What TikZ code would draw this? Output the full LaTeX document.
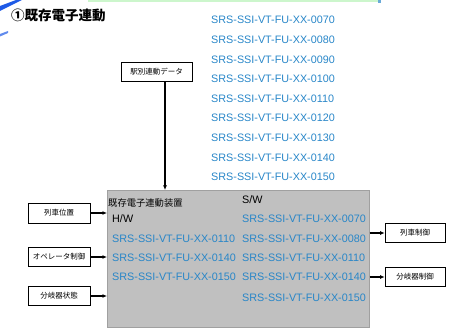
\documentclass[tikz,border=0pt]{standalone}
\usepackage{fontspec}
\setmainfont{Liberation Sans}
\newfontfamily\cjk{Noto Sans CJK JP}
\usetikzlibrary{arrows.meta}
\definecolor{srsblue}{RGB}{40,134,200}
\definecolor{boxgray}{RGB}{192,192,192}
\definecolor{edgegray}{RGB}{160,160,160}
\definecolor{topgreen}{RGB}{204,246,204}
\definecolor{topblue}{RGB}{30,90,230}
\tikzset{
  srs/.style={anchor=west, inner sep=0pt, text=srsblue, font=\fontsize{10.8}{13}\selectfont},
  lbl/.style={anchor=west, inner sep=0pt, font=\fontsize{10.8}{13}\selectfont},
  smallbox/.style={draw=black, line width=0.6pt, fill=white, inner sep=0pt, font=\cjk\fontsize{7.5}{9}\selectfont},
  arr/.style={-{Latex[length=4.5pt,width=4pt]}, line width=1.1pt},
}
\begin{document}
\begin{tikzpicture}[x=1pt,y=-1pt]
\useasboundingbox (0,0) rectangle (450,328);
% top decorations
\fill[topgreen] (88,0) rectangle (378,2.5);
\fill[srsblue!70] (378,0) rectangle (381,3);
\fill[topblue] (0,6) -- (16,0) -- (22,0) -- (0,11) -- cycle;
\fill[topblue!70] (0,34) -- (8,31) -- (8,33) -- (0,36.5) -- cycle;
% title
\node[anchor=west, inner sep=0pt, font=\cjk\bfseries\fontsize{13.5}{16}\selectfont] (title) at (11,15) {①既存電子連動};
% top list
\foreach \n/\y in {0070/20,0080/40,0090/60,0100/79,0110/99,0120/118,0130/138,0140/158,0150/177}{
  \node[srs] (top\n) at (211,\y) {SRS-SSI-VT-FU-XX-\n};
}
% data box
\node[smallbox, minimum width=71pt, minimum height=19pt] (data) at (156.5,71.5) {駅別連動データ};
% device box
\node[draw=edgegray, fill=boxgray, line width=0.6pt, minimum width=262pt, minimum height=137pt, anchor=north west, inner sep=0pt] (dev) at (107,190) {};
\node[anchor=west, inner sep=0pt, font=\cjk\fontsize{9.3}{11}\selectfont] (devname) at (108,203) {既存電子連動装置};
\node[lbl] (hw) at (112,219) {H/W};
\node[lbl] (sw) at (242,200) {S/W};
\foreach \n/\y in {0110/239,0140/258,0150/277}{
  \node[srs] (hw\n) at (112,\y) {SRS-SSI-VT-FU-XX-\n};
}
\foreach \n/\y in {0070/219,0080/239,0110/258,0140/277,0150/298}{
  \node[srs] (sw\n) at (242,\y) {SRS-SSI-VT-FU-XX-\n};
}
% left inputs
\node[smallbox, minimum width=62pt, minimum height=20pt] (pos) at (59,213) {列車位置};
\node[smallbox, minimum width=62pt, minimum height=19pt] (ope) at (59,257) {オペレータ制御};
\node[smallbox, minimum width=62pt, minimum height=19pt] (swst) at (59,296) {分岐器状態};
% right outputs
\node[smallbox, minimum width=60pt, minimum height=19pt] (ctrl) at (415,233) {列車制御};
\node[smallbox, minimum width=60pt, minimum height=19pt] (swctrl) at (415,277) {分岐器制御};
% arrows
\draw[arr] ([xshift=8.5pt]data.south) -- ([xshift=8.5pt]data.south |- dev.north);
\draw[arr] (pos.east) -- (pos.east -| dev.west);
\draw[arr] (ope.east) -- (ope.east -| dev.west);
\draw[arr] (swst.east) -- (swst.east -| dev.west);
\draw[arr] (ctrl.west -| dev.east) -- (ctrl.west);
\draw[arr] (swctrl.west -| dev.east) -- (swctrl.west);
\end{tikzpicture}
\end{document}
